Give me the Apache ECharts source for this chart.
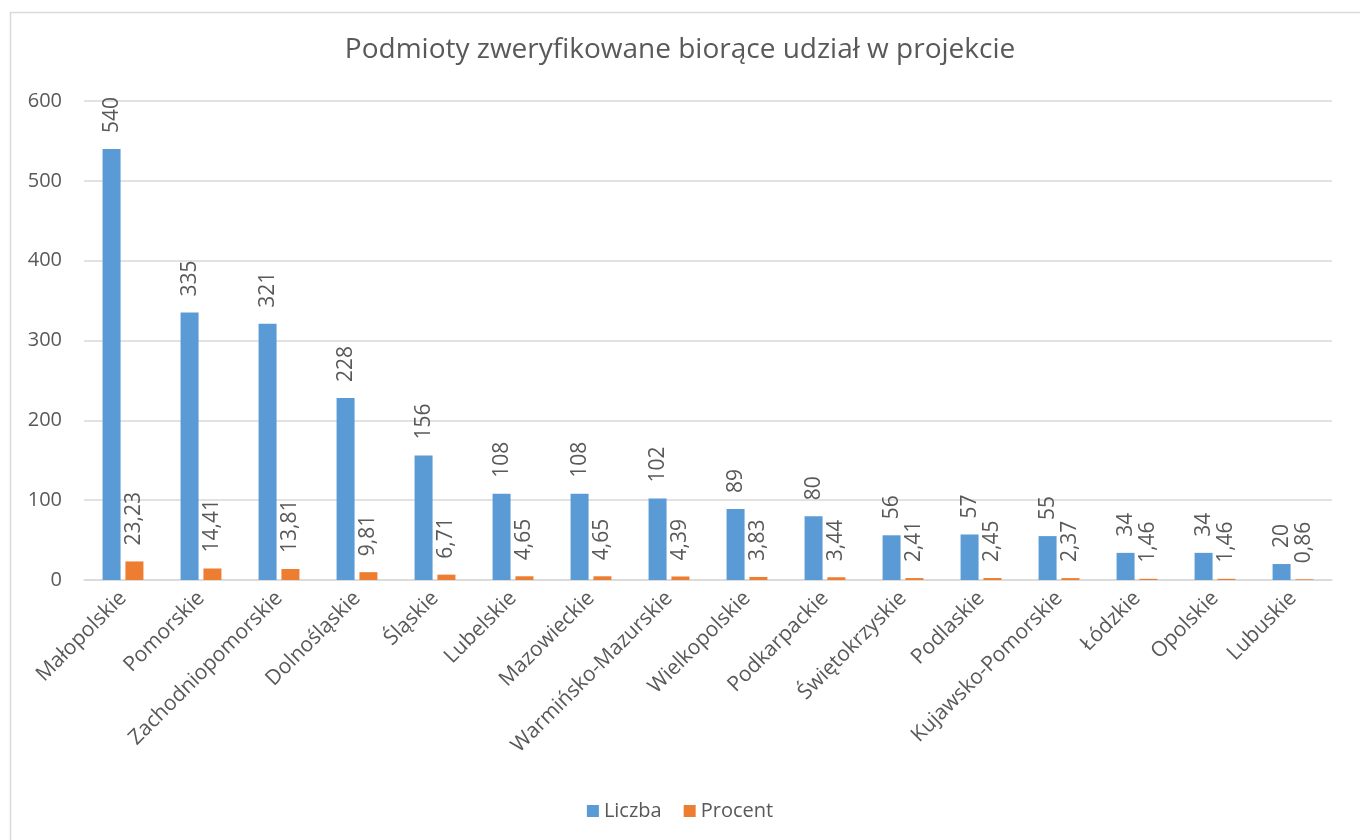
<!DOCTYPE html>
<html>
<head>
<meta charset="utf-8">
<script src="https://cdn.jsdelivr.net/npm/echarts@6/dist/echarts.min.js"></script>
<style>
html,body{margin:0;padding:0;background:#fff;}
#chart{width:1360px;height:840px;}
</style>
</head>
<body>
<div id="chart"></div>
<script>
var title = 'Podmioty zweryfikowane biorące udział w projekcie';
var categories = ['Małopolskie','Pomorskie','Zachodniopomorskie','Dolnośląskie','Śląskie','Lubelskie','Mazowieckie','Warmińsko-Mazurskie','Wielkopolskie','Podkarpackie','Świętokrzyskie','Podlaskie','Kujawsko-Pomorskie','Łódzkie','Opolskie','Lubuskie'];
var liczba = [540,335,321,228,156,108,108,102,89,80,56,57,55,34,34,20];
var procent = [23.23,14.41,13.81,9.81,6.71,4.65,4.65,4.39,3.83,3.44,2.41,2.45,2.37,1.46,1.46,0.86];
var seriesNames = ['Liczba','Procent'];

var FONT = '"Open Sans", sans-serif';
var TXT = '#595959';
var chart = echarts.init(document.getElementById('chart'), null, {renderer:'canvas'});
var labelCommon = {
  show: true, position: 'top', rotate: 90, align: 'left', verticalAlign: 'middle',
  distance: 16, color: TXT, fontFamily: FONT, fontSize: 21
};
chart.setOption({
  animation: false,
  backgroundColor: '#fff',
  graphic: [{
    type: 'rect', left: 8, top: 10, silent: true,
    shape: {width: 1400, height: 900},
    style: {fill: 'none', stroke: '#D9D9D9', lineWidth: 1.5}
  }],
  title: {
    text: title, left: 'center', top: 31,
    textStyle: {color: TXT, fontFamily: FONT, fontSize: 28, fontWeight: 'normal'}
  },
  legend: {
    bottom: 14, left: 'center', itemWidth: 12, itemHeight: 12, itemGap: 22, icon: 'rect',
    textStyle: {color: TXT, fontFamily: FONT, fontSize: 20}
  },
  grid: {left: 84, right: 28, top: 101, bottom: 260, containLabel: false},
  xAxis: {
    type: 'category', data: categories,
    axisLine: {lineStyle: {color: '#D9D9D9', width: 1.5}},
    axisTick: {show: false},
    axisLabel: {rotate: 45, interval: 0, margin: 15, color: TXT, fontFamily: FONT, fontSize: 21}
  },
  yAxis: {
    type: 'value', min: 0, max: 600, interval: 100,
    axisLine: {show: false}, axisTick: {show: false},
    splitLine: {lineStyle: {color: '#D9D9D9', width: 1.5}},
    axisLabel: {margin: 22, color: TXT, fontFamily: FONT, fontSize: 20}
  },
  series: [{
    name: seriesNames[0], type: 'bar', data: liczba, barWidth: 18, barGap: '27%',
    itemStyle: {color: '#5B9BD5'},
    label: labelCommon
  },{
    name: seriesNames[1], type: 'bar', data: procent, barWidth: 18,
    itemStyle: {color: '#ED7D31'},
    label: Object.assign({}, labelCommon, {formatter: function(p){ return p.value.toFixed(2).replace('.', ','); }})
  }]
});
</script>
</body>
</html>
